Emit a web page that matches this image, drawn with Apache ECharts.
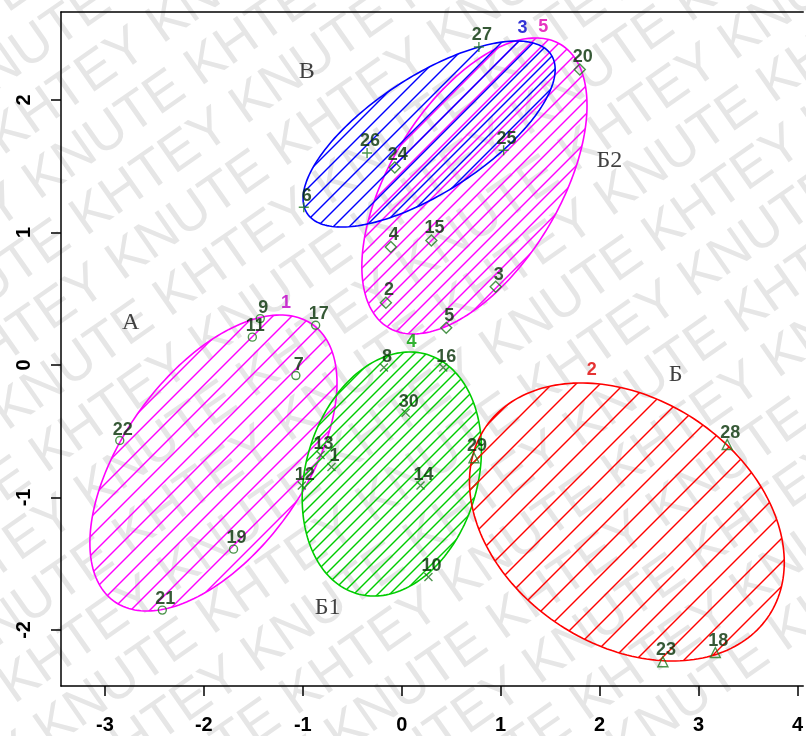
<!DOCTYPE html>
<html><head><meta charset="utf-8">
<script src="https://cdn.jsdelivr.net/npm/echarts@6/dist/echarts.min.js"></script>
<style>html,body{margin:0;padding:0;background:#fff}#c{width:806px;height:736px}</style>
</head><body><div id="c"></div>
<script>
// ---- data ----
const xTicks = [-3, -2, -1, 0, 1, 2, 3, 4];
const yTicks = [-2, -1, 0, 1, 2];

// group А (circles)
const groupA_ids = ['22', '21', '19', '11', '9', '7', '17'];
const groupA_x = [-2.85, -2.42, -1.70, -1.51, -1.43, -1.07, -0.87];
const groupA_y = [-0.57, -1.85, -1.39, 0.21, 0.35, -0.08, 0.30];

// group Б1 (crosses)
const groupB1_ids = ['12', '13', '1', '8', '16', '30', '14', '10'];
const groupB1_x = [-1.01, -0.82, -0.71, -0.18, 0.42, 0.04, 0.19, 0.27];
const groupB1_y = [-0.91, -0.68, -0.77, -0.02, -0.02, -0.36, -0.91, -1.60];

// group Б (triangles)
const groupB_ids = ['29', '28', '23', '18'];
const groupB_x = [0.73, 3.29, 2.64, 3.17];
const groupB_y = [-0.70, -0.60, -2.24, -2.17];

// group Б2 (diamonds)
const groupB2_ids = ['20', '3', '5', '15', '4', '2', '24'];
const groupB2_x = [1.80, 0.95, 0.45, 0.30, -0.11, -0.16, -0.07];
const groupB2_y = [2.23, 0.59, 0.28, 0.94, 0.89, 0.47, 1.49];

// group В (plus)
const groupV_ids = ['26', '6', '27', '25'];
const groupV_x = [-0.35, -0.99, 0.78, 1.03];
const groupV_y = [1.60, 1.19, 2.40, 1.62];

// cluster ellipses: centre, half-extent in x and y, correlation
const ellNames = ['А', 'Б1', 'Б', 'Б2', 'В'];
const ellCx = [-1.903, -0.10, 2.276, 0.735, 0.277];
const ellCy = [-0.740, -0.823, -1.185, 1.351, 1.743];
const ellRx = [1.249, 0.906, 1.591, 1.138, 1.274];
const ellRy = [1.117, 0.921, 1.049, 1.117, 0.702];
const ellRho = [0.54, 0.20, -0.29, 0.544, 0.694];

// cluster numbers
const clNum = ['1', '2', '3', '4', '5'];
const clNumX = [-1.17, 1.92, 1.22, 0.10, 1.43];
const clNumY = [0.47, -0.04, 2.54, 0.17, 2.55];

// group letters
const grpLetters = ['В', 'Б2', 'А', 'Б1', 'Б'];
const grpLetterX = [-0.96, 2.10, -2.74, -0.75, 2.77];
const grpLetterY = [2.21, 1.54, 0.32, -1.83, -0.07];

// ---- styles ----
const ellColors = ['#ff00ff', '#00cc00', '#ff0000', '#ff00ff', '#0000ff'];
const ellHatchTile = [19, 12, 24, 14, 16];
const clNumColors = ['#c000c8', '#e00000', '#0000cc', '#00a000', '#e000b0'];
const markerColor = '#1f7a1f';
const labelColor = '#043004';
const FONT = '"Liberation Sans", Arial, sans-serif';

function hatchPattern(color, T) {
  const c = document.createElement('canvas');
  c.width = T; c.height = T;
  const g = c.getContext('2d');
  g.strokeStyle = color; g.lineWidth = 1.4;
  [-T, 0, T].forEach(d => { g.beginPath(); g.moveTo(-2, T + d + 2); g.lineTo(T + 2, d - 2); g.stroke(); });
  return {image: c, repeat: 'repeat'};
}
const ellPatterns = ellColors.map((c, i) => hatchPattern(c, ellHatchTile[i]));

const chart = echarts.init(document.getElementById('c'), null, {renderer: 'canvas'});

function renderEllipse(params, api) {
  const i = params.dataIndex;
  const cx = ellCx[i], cy = ellCy[i], rx = ellRx[i], ry = ellRy[i], rho = ellRho[i];
  const pts = [];
  const N = 200;
  for (let k = 0; k < N; k++) {
    const t = k / N * 2 * Math.PI;
    const x = cx + rx * Math.cos(t);
    const y = cy + rho * ry * Math.cos(t) + ry * Math.sqrt(1 - rho * rho) * Math.sin(t);
    pts.push(api.coord([x, y]));
  }
  return {type: 'polygon', shape: {points: pts}, silent: true,
    style: {fill: ellPatterns[i], stroke: ellColors[i], lineWidth: 1.6}};
}

const SYM = {
  circle: 'path://M10,5A5,5,0,1,1,0,5A5,5,0,1,1,10,5Z',
  cross: 'path://M0,0L10,10M10,0L0,10',
  triangle: 'path://M5,0L10,9L0,9Z',
  diamond: 'path://M5,0L10,5L5,10L0,5Z',
  plus: 'path://M5,0L5,10M0,5L10,5'
};

function pointSeries(ids, xs, ys, sym, size) {
  return {
    type: 'scatter', z: 5, silent: true,
    symbol: SYM[sym], symbolSize: size,
    itemStyle: {color: 'rgba(0,0,0,0)', borderColor: markerColor, borderWidth: 1.4},
    label: {show: true, formatter: '{b}', position: 'top', distance: 0, offset: [3, 3],
      color: labelColor, fontWeight: 'bold', fontSize: 18, fontFamily: FONT},
    data: ids.map((id, j) => ({name: id, value: [xs[j], ys[j]]}))
  };
}

// watermark rows
const wmFont = 54;
const wmPeriod = 404;
const wmText = 'KNUTE KHTEY '.repeat(8);
const wmRows = [];
for (let k = -14; k <= 14; k++) {
  const off = ((k * 213) % wmPeriod + wmPeriod) % wmPeriod;
  wmRows.push({type: 'text', x: -0.333 * wmFont - 4 * wmPeriod + off, y: k * 57 - 0.55 * wmFont, z: -10, silent: true,
    style: {text: wmText, font: wmFont + 'px ' + FONT, fill: '#e6e6e6'}});
}

const option = {
  animation: false,
  backgroundColor: '#fff',
  grid: {left: 61, top: 12, right: 0, bottom: 50, show: false},
  graphic: {elements: [{type: 'group', x: 82, y: 155, rotation: 35 * Math.PI / 180, z: -10, silent: true, children: wmRows}]},
  xAxis: [{
    type: 'value', min: -3.444, max: 4.059,
    axisLine: {show: true, onZero: false, lineStyle: {color: '#000', width: 1.5}},
    axisTick: {show: true, length: 10, lineStyle: {color: '#000', width: 1.5}, customValues: xTicks},
    axisLabel: {customValues: xTicks, margin: 29, color: '#000', fontWeight: 'bold', fontSize: 20, fontFamily: FONT},
    splitLine: {show: false}
  }, {
    type: 'value', position: 'top', min: -3.444, max: 4.059,
    axisLine: {show: true, onZero: false, lineStyle: {color: '#000', width: 1.5}},
    axisTick: {show: false}, axisLabel: {show: false}, splitLine: {show: false}
  }],
  yAxis: {
    type: 'value', min: -2.423, max: 2.664,
    axisLine: {show: true, onZero: false, lineStyle: {color: '#000', width: 1.5}},
    axisTick: {show: true, length: 10, lineStyle: {color: '#000', width: 1.5}, customValues: yTicks},
    axisLabel: {customValues: yTicks, rotate: 90, margin: 27, color: '#000', fontWeight: 'bold', fontSize: 20, fontFamily: FONT},
    splitLine: {show: false}
  },
  series: [
    {type: 'custom', z: 2, silent: true, renderItem: renderEllipse, clip: false,
      encode: {x: 0, y: 1},
      data: ellNames.map((n, i) => ({name: n, value: [ellCx[i], ellCy[i]]}))},
    pointSeries(groupA_ids, groupA_x, groupA_y, 'circle', 8),
    pointSeries(groupB1_ids, groupB1_x, groupB1_y, 'cross', 8),
    pointSeries(groupB_ids, groupB_x, groupB_y, 'triangle', 10),
    pointSeries(groupB2_ids, groupB2_x, groupB2_y, 'diamond', 11),
    pointSeries(groupV_ids, groupV_x, groupV_y, 'plus', 10),
    {type: 'scatter', z: 6, silent: true, symbol: 'circle', symbolSize: 1, itemStyle: {color: 'rgba(0,0,0,0)'},
      label: {show: true, formatter: '{b}', position: 'inside', fontWeight: 'bold', fontSize: 18, fontFamily: FONT},
      data: clNum.map((n, i) => ({name: n, value: [clNumX[i], clNumY[i]], label: {color: clNumColors[i]}}))},
    {type: 'scatter', z: 6, silent: true, symbol: 'circle', symbolSize: 1, itemStyle: {color: 'rgba(0,0,0,0)'},
      label: {show: true, formatter: '{b}', position: 'inside', color: '#111', fontSize: 24, fontFamily: '"Liberation Serif", "Times New Roman", serif'},
      data: grpLetters.map((n, i) => ({name: n, value: [grpLetterX[i], grpLetterY[i]]}))}
  ]
};
chart.setOption(option);
</script>
</body></html>
